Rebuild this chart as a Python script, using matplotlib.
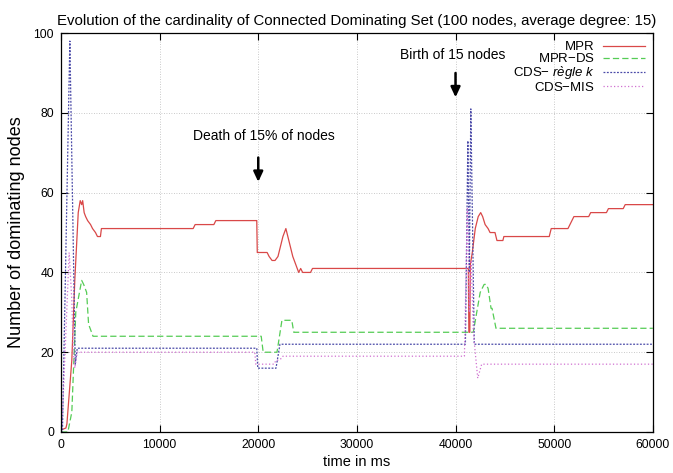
import matplotlib
matplotlib.use("Agg")
import matplotlib.pyplot as plt

plt.rcParams['font.family'] = ['Liberation Sans', 'DejaVu Sans']
plt.rcParams['mathtext.fontset'] = 'custom'
plt.rcParams['mathtext.it'] = 'Liberation Sans:italic'
plt.rcParams['mathtext.rm'] = 'Liberation Sans'

# MPR
t_mpr = [0, 500, 600, 1100, 1400, 1750, 1950, 2100, 2200, 2350, 2500, 2700, 3000, 3200,
         3500, 3700, 4000, 4100, 13400, 13600, 15500, 15700, 19850, 19900, 20900, 21100,
         21400, 21700, 22000, 22500, 22800, 23100, 23500, 23800, 24100, 24300, 24500,
         25300, 25500, 41300, 41350, 41450, 41500, 41700, 42000, 42300, 42550, 42750,
         43000, 43300, 43500, 44000, 44200, 44800, 44900, 49500, 49700, 51400, 51600,
         51800, 52000, 53500, 53700, 55300, 55500, 57000, 57200, 60000]
mpr = [0.5, 1, 2, 18, 38, 55, 58, 57, 58, 55, 54, 53, 52, 51,
       50, 49, 49, 51, 51, 52, 52, 53, 53, 45, 45, 44,
       43, 43, 44, 49, 51, 48, 44, 42, 40, 41, 40,
       40, 41, 41, 25, 25, 42, 45, 51, 54, 55, 54,
       52, 51, 50, 50, 48, 48, 49, 49, 51, 51, 52,
       53, 54, 54, 55, 55, 56, 56, 57, 57]

# MPR-DS
t_ds = [0, 700, 1100, 1500, 1800, 2100, 2300, 2600, 2800, 3250, 20300, 20500, 21900,
        22400, 23400, 23600, 41100, 41800, 42150, 42500, 42900, 43100, 43300, 43600,
        43700, 44100, 60000]
mpr_ds = [0, 0, 5, 30, 34, 38, 37, 35, 27, 24, 24, 20, 20,
          28, 28, 25, 25, 25, 30, 35, 37, 37, 36, 31,
          31, 26, 26]

# CDS - regle k
t_k = [0, 150, 900, 1450, 1650, 19850, 19950, 21800, 22200, 41000, 41250, 41400,
       41550, 41900, 60000]
cds_k = [0, 0, 98, 17, 21, 21, 16, 16, 22, 22, 73, 40,
         81, 22, 22]

# CDS-MIS
t_mis = [0, 100, 830, 1100, 1250, 1400, 1650, 19650, 19750, 21600, 21800, 22000,
         22400, 22500, 40900, 41200, 41400, 41600, 41800, 42250, 42650, 60000]
cds_mis = [0, 1, 45, 33, 20, 16, 20, 20, 17, 17, 18, 18,
           18.5, 19, 19, 56, 30, 43, 25, 13.5, 17, 17]

fig = plt.figure(figsize=(6.73, 4.73), dpi=100)
ax = fig.add_axes([0.0906, 0.0867, 0.8794, 0.8433])

ax.plot(t_mpr, mpr, color='#d94848', lw=0.9, label='MPR')
ax.plot(t_ds, mpr_ds, color='#55cc55', lw=0.9, dashes=(5, 2.5), label='MPR$-$DS')
ax.plot(t_k, cds_k, color='#4a4aa8', lw=0.9, dashes=(1.5, 1.2),
        label='CDS$-$ $\\mathit{r\\grave{e}gle\\ k}$')
ax.plot(t_mis, cds_mis, color='#d070d0', lw=0.9, dashes=(1, 1.8), label='CDS$-$MIS')

ax.set_xlim(0, 60000)
ax.set_ylim(0, 100)
ax.set_xticks(range(0, 60001, 10000))
ax.set_yticks(range(0, 101, 20))
ax.tick_params(direction='in', top=True, right=True, length=5, width=0.8,
               labelsize=8.7, pad=5)
for s in ax.spines.values():
    s.set_linewidth(0.9)
ax.grid(True, color='#b8b8b8', lw=0.6, dashes=(1, 2))

ax.set_title('Evolution of the cardinality of Connected Dominating Set (100 nodes, average degree: 15)',
             fontsize=10.8, pad=6)
ax.set_xlabel('time in ms', fontsize=10.5, labelpad=3)
ax.set_ylabel('Number of dominating nodes', fontsize=13, labelpad=6)

leg = ax.legend(loc='upper right', frameon=False, markerfirst=False, fontsize=9.5,
                handlelength=3.2, handletextpad=0.6, labelspacing=-0.08,
                borderaxespad=0.2)

ax.annotate('', xy=(20000, 62), xytext=(20000, 69.5),
            arrowprops=dict(arrowstyle='-|>,head_length=0.6,head_width=0.28',
                            color='black', lw=1.8))
ax.text(20600, 74.3, 'Death of 15% of nodes', ha='center', va='center', fontsize=10)
ax.annotate('', xy=(40000, 83.2), xytext=(40000, 90.7),
            arrowprops=dict(arrowstyle='-|>,head_length=0.6,head_width=0.28',
                            color='black', lw=1.8))
ax.text(39730, 94.4, 'Birth of 15 nodes', ha='center', va='center', fontsize=10)

fig.savefig('out.png', dpi=100)
